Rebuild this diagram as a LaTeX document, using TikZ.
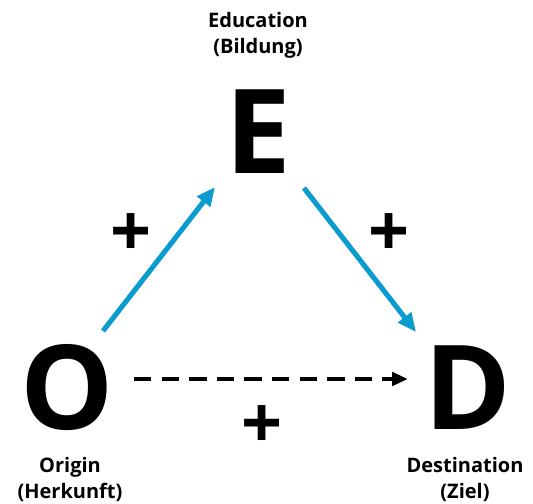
\documentclass[tikz,border=0pt]{standalone}
\usepackage{fontspec}
\setmainfont{Open Sans}
\usetikzlibrary{arrows.meta}
\definecolor{arrowblue}{HTML}{0A9BCF}
\tikzset{
  big/.style={font=\fontsize{88}{88}\selectfont\bfseries, inner sep=0pt},
  lbl/.style={font=\fontsize{15}{19.5}\selectfont\bfseries, align=center, inner sep=0pt},
  plus/.style={font=\fontsize{54}{54}\selectfont\bfseries, inner sep=0pt},
  bluearrow/.style={draw=arrowblue, line width=3.8pt, -{Triangle[length=14pt,width=12pt]}},
  dasharrow/.style={draw=black, line width=3pt, dash pattern=on 13pt off 7.7pt, -{Triangle[length=12pt,width=10pt]}}
}
\begin{document}
\begin{tikzpicture}[x=0.75pt,y=-0.75pt]
\useasboundingbox (0,0) rectangle (533,504);
\node[lbl] (elbl) at (258,35) {Education\\(Bildung)};
\node[big] (E) at (258,132) {E};
\node[big] (O) at (67,388) {O};
\node[big] (D) at (468,388) {D};
\node[lbl] (olbl) at (70,479) {Origin\\(Herkunft)};
\node[lbl] (dlbl) at (465,479) {Destination\\(Ziel)};
\coordinate (a1s) at (103,331);
\coordinate (a1e) at (215,187);
\coordinate (a2s) at (304,188);
\coordinate (a2e) at (416,332);
\coordinate (d1s) at (134,379);
\coordinate (d1e) at (408,379);
\draw[bluearrow] (a1s) -- (a1e);
\draw[bluearrow] (a2s) -- (a2e);
\draw[dasharrow] (d1s) -- (d1e);
\node[plus] (p1) at (131,235) {+};
\node[plus] (p2) at (389,235) {+};
\node[plus] (p3) at (262,427) {+};
\end{tikzpicture}
\end{document}
